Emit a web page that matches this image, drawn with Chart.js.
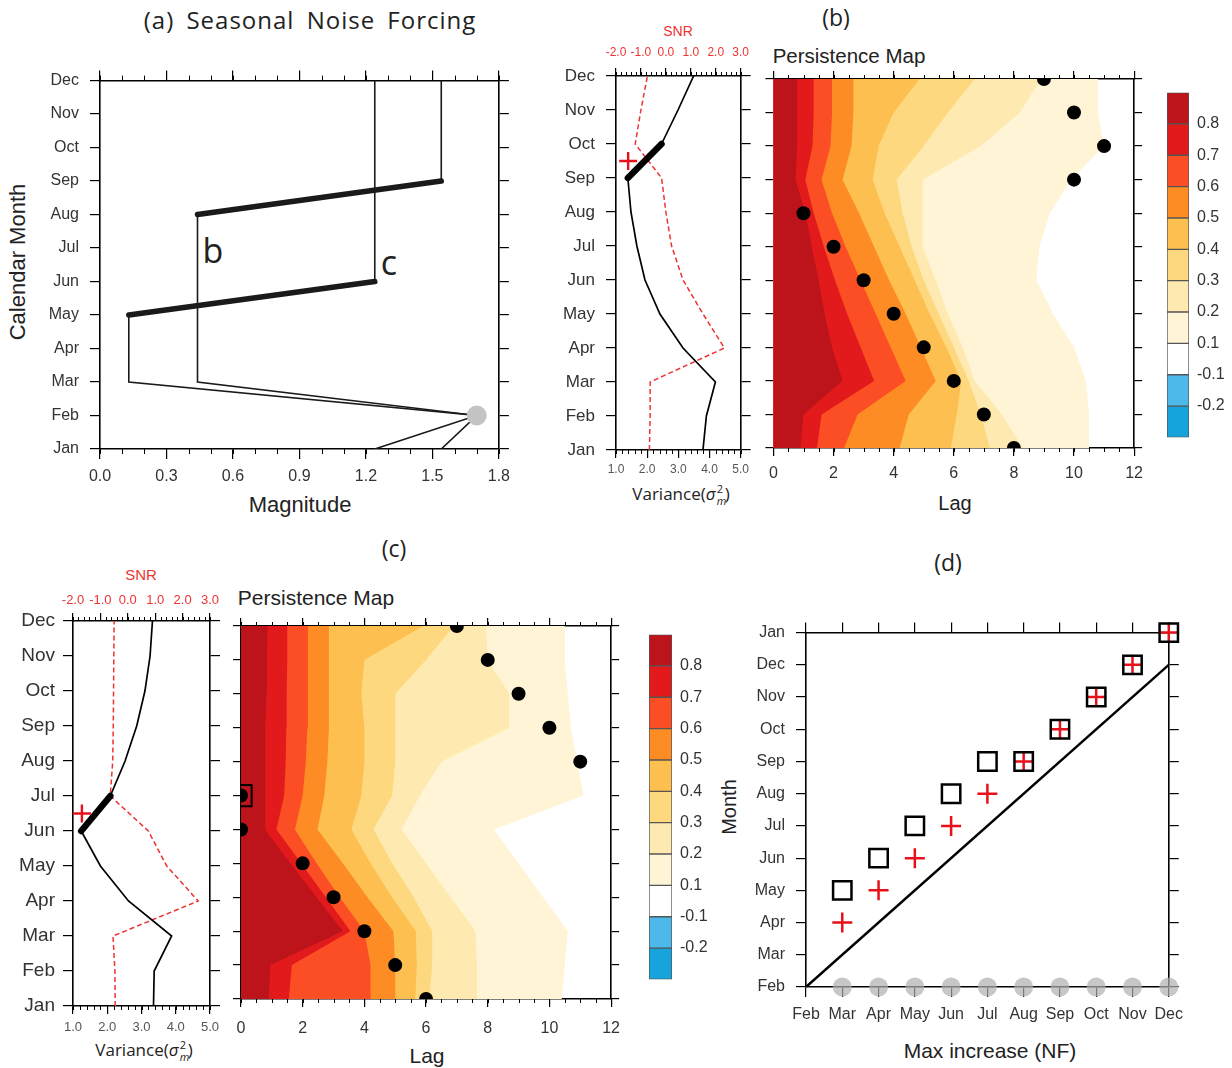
<!DOCTYPE html>
<html><head><meta charset="utf-8">
<script src="https://cdn.jsdelivr.net/npm/chart.js@4.4.1/dist/chart.umd.min.js"></script>
<style>
html,body{margin:0;padding:0;background:#fff;}
#page{position:relative;width:1232px;height:1068px;overflow:hidden;background:#fff;}
canvas{position:absolute;}
.t{position:absolute;white-space:nowrap;transform:translate(-50%,-50%);color:#222;font-family:'Liberation Sans',Arial,sans-serif;line-height:1;}
.os{font-family:'Open Sans',sans-serif;}
.rot{transform:translate(-50%,-50%) rotate(-90deg);}
.ss{position:relative;display:inline-block;width:9px;height:12px;}
.ss .sup{position:absolute;left:1px;top:-5px;font-size:11px;line-height:11px;font-style:normal;}
.ss .sub{position:absolute;left:1px;top:7px;font-size:11px;line-height:11px;font-style:italic;}
</style></head>
<body><div id="page">
<div class="t os" style="left:310px;top:20px;font-size:24px;letter-spacing:1px;word-spacing:5px;">(a) Seasonal Noise Forcing</div>
<div class="t os" style="left:836px;top:17px;font-size:23px;">(b)</div>
<div class="t os" style="left:394px;top:548px;font-size:23px;">(c)</div>
<div class="t os" style="left:948px;top:562px;font-size:23px;">(d)</div>

<div class="t rot" style="left:18px;top:262px;font-size:22px;">Calendar Month</div>
<div class="t" style="left:300px;top:505px;font-size:22px;">Magnitude</div>
<div class="t os" style="left:213px;top:250px;font-size:34px;">b</div>
<div class="t os" style="left:389px;top:262px;font-size:34px;">c</div>

<div class="t" style="left:678px;top:31px;font-size:14px;color:#ee3333;">SNR</div>
<div class="t os" style="left:681px;top:493px;font-size:17px;">Variance(<i>σ</i><span class="ss"><span class="sup">2</span><span class="sub">m</span></span>)</div>
<div class="t" style="left:849px;top:56px;font-size:20.5px;">Persistence Map</div>
<div class="t" style="left:955px;top:503px;font-size:20px;">Lag</div>

<div class="t" style="left:141px;top:574px;font-size:15px;color:#ee3333;">SNR</div>
<div class="t os" style="left:144px;top:1049px;font-size:17px;">Variance(<i>σ</i><span class="ss"><span class="sup">2</span><span class="sub">m</span></span>)</div>
<div class="t" style="left:316px;top:597px;font-size:21px;">Persistence Map</div>
<div class="t" style="left:427px;top:1055px;font-size:21px;">Lag</div>

<div class="t rot" style="left:729px;top:807px;font-size:20px;">Month</div>
<div class="t" style="left:990px;top:1050px;font-size:21px;">Max increase (NF)</div>
</div>
<script>
// ---------------- DATA ----------------
const MONTHS = ['Jan','Feb','Mar','Apr','May','Jun','Jul','Aug','Sep','Oct','Nov','Dec'];
const MONTH_IDX = [0,1,2,3,4,5,6,7,8,9,10,11];

// (a) seasonal noise forcing magnitude per calendar month
const NF_B = [1.54, 1.70, 0.44, 0.44, 0.44, 0.44, 0.44, 0.44, 1.54, 1.54, 1.54, 1.54];
const NF_C = [1.24, 1.70, 0.13, 0.13, 0.13, 1.24, 1.24, 1.24, 1.24, 1.24, 1.24, 1.24];
const NF_THICK_B = 7;   // Aug -> Sep
const NF_THICK_C = 4;   // May -> Jun
const NF_PEAK_MONTH = 1, NF_PEAK_MAG = 1.70;

// (b) variance and SNR
const VAR_B = [3.79, 3.90, 4.19, 3.15, 2.41, 1.93, 1.67, 1.48, 1.38, 2.46, 2.99, 3.49];
const SNR_B = [-0.66, -0.63, -0.63, 2.35, 1.49, 0.69, 0.23, 0.00, -0.17, -1.23, -1.00, -0.74];
const VAR_THICK_B = 8;  // Sep -> Oct
const PLUS_B_VAR = 1.39, PLUS_B_MONTH = 8.5;
// (b) persistence map: lag where each contour level is crossed, Jan..Dec
const B_L01 = [10.5, 10.5, 10.4, 10.0, 9.3, 8.75, 8.85, 9.2, 9.9, 11.0, 10.8, 10.8];
const B_L02 = [8.3, 7.6, 6.7, 6.3, 5.8, 5.4, 4.96, 4.96, 4.96, 6.9, 8.2, 8.9];
const B_L03 = [7.2, 6.9, 6.5, 6.0, 5.5, 5.0, 4.6, 4.3, 4.1, 5.0, 5.8, 6.7];
const B_L04 = [5.9, 6.1, 6.25, 5.75, 5.2, 4.7, 4.2, 3.7, 3.3, 3.5, 4.0, 4.86];
const B_L05 = [4.2, 4.5, 5.4, 4.9, 4.4, 3.85, 3.35, 2.85, 2.3, 2.6, 2.66, 2.66];
const B_L06 = [2.35, 2.8, 4.4, 3.9, 3.4, 2.9, 2.4, 1.95, 1.6, 1.9, 1.95, 1.95];
const B_L07 = [1.45, 1.6, 3.35, 2.9, 2.45, 2.05, 1.68, 1.34, 1.06, 1.3, 1.34, 1.34];
const B_L08 = [0.9, 1.0, 2.3, 1.95, 1.7, 1.5, 1.28, 1.06, 0.74, 0.79, 0.79, 0.79];
const B_DOT_LAG = [8, 7, 6, 5, 4, 3, 2, 1, 10, 11, 10, 9];

// (c) variance and SNR
const VAR_C = [3.35, 3.37, 3.88, 2.62, 1.80, 1.24, 2.09, 2.52, 2.86, 3.10, 3.25, 3.32];
const SNR_C = [-0.46, -0.47, -0.54, 2.57, 1.42, 0.75, -0.64, -0.55, -0.53, -0.52, -0.51, -0.50];
const VAR_THICK_C = 5;  // Jun -> Jul
const PLUS_C_VAR = 1.26, PLUS_C_MONTH = 5.5;
const C_L01 = [10.4, 10.5, 10.6, 9.8, 9.0, 8.2, 11.1, 10.9, 10.7, 10.6, 10.5, 10.5];
const C_L02 = [7.65, 7.65, 7.6, 6.8, 6.0, 5.2, 5.8, 6.5, 8.7, 8.7, 8.0, 7.95];
const C_L03 = [6.1, 6.2, 6.2, 5.6, 4.9, 4.3, 4.9, 5.0, 5.0, 5.0, 6.0, 6.9];
const C_L04 = [5.65, 5.7, 5.67, 4.9, 4.2, 3.58, 3.9, 4.0, 4.0, 3.9, 4.0, 5.9];
const C_L05 = [5.0, 5.0, 4.94, 4.1, 3.3, 2.48, 2.7, 2.8, 2.85, 2.85, 2.85, 2.85];
const C_L06 = [4.2, 4.2, 4.0, 3.2, 2.45, 1.75, 2.0, 2.1, 2.15, 2.17, 2.17, 2.17];
const C_L07 = [1.55, 1.65, 3.55, 2.75, 1.95, 1.15, 1.4, 1.45, 1.47, 1.48, 1.5, 1.5];
const C_L08 = [0.9, 0.95, 3.3, 2.45, 1.6, 0.78, 0.78, 0.78, 0.8, 0.82, 0.84, 0.86];
const C_DOT_LAG = [6, 5, 4, 3, 2, 0, 0, 11, 10, 9, 8, 7];
const C_BOX_LAG = 0, C_BOX_MONTH = 6;

// colour scale
const LEVEL_COLORS = ['#17a3dc','#4db8ea','#ffffff','#fff5d6','#feeab0','#fed87e','#fdbf4f','#fd8c25','#fc4e25','#e31a1c','#bd141b'];
const LEVEL_TICKS = ['', '-0.2', '-0.1', '0.1', '0.2', '0.3', '0.4', '0.5', '0.6', '0.7', '0.8', ''];

// (d) month of max increase
const D_X_LABELS = ['Feb','Mar','Apr','May','Jun','Jul','Aug','Sep','Oct','Nov','Dec'];
const D_Y_LABELS = ['Feb','Mar','Apr','May','Jun','Jul','Aug','Sep','Oct','Nov','Dec','Jan'];
const D_SQ_X = [1, 2, 3, 4, 5, 6, 7, 8, 9, 10];
const D_SQ_Y = [3, 4, 5, 6, 7, 7, 8, 9, 10, 11];
const D_PL_X = [1, 2, 3, 4, 5, 6, 7, 8, 9, 10];
const D_PL_Y = [2, 3, 4, 5, 6, 7, 8, 9, 10, 11];
const D_GREY_X = [1, 2, 3, 4, 5, 6, 7, 8, 9, 10];
const D_GREY_Y = [0, 0, 0, 0, 0, 0, 0, 0, 0, 0];
const D_DIAG_X = [0, 10];
const D_DIAG_Y = [0, 10];

// ---------------- HELPERS ----------------
const FONT = "'Liberation Sans', Arial, sans-serif";
Chart.defaults.font.family = FONT;
Chart.defaults.color = '#333';
const page = document.getElementById('page');

function mkCanvas(x, y, w, h) {
  const c = document.createElement('canvas');
  c.width = w; c.height = h;
  c.style.left = x + 'px'; c.style.top = y + 'px';
  c.style.width = w + 'px'; c.style.height = h + 'px';
  page.appendChild(c);
  return c;
}
const minorTicks = {
  id: 'minorTicks',
  afterDraw(chart, args, opts) {
    const list = opts && opts.list; if (!list) return;
    const ctx = chart.ctx, a = chart.chartArea;
    ctx.save(); ctx.strokeStyle = '#000'; ctx.lineWidth = 1;
    list.forEach(o => {
      const s = chart.scales[o.id]; if (!s) return;
      const n = Math.round((s.max - s.min) / o.step);
      for (let i = 0; i <= n; i++) {
        const p = Math.round(s.getPixelForValue(s.min + i * o.step)) + 0.5;
        ctx.beginPath();
        if (s.position === 'bottom') { ctx.moveTo(p, a.bottom); ctx.lineTo(p, a.bottom + o.len); }
        else if (s.position === 'top') { ctx.moveTo(p, a.top); ctx.lineTo(p, a.top - o.len); }
        else if (s.position === 'left') { ctx.moveTo(a.left, p); ctx.lineTo(a.left - o.len, p); }
        else { ctx.moveTo(a.right, p); ctx.lineTo(a.right + o.len, p); }
        ctx.stroke();
      }
    });
    ctx.restore();
  }
};
function frame(o) {
  return {
    type: 'linear', position: o.pos, min: o.min, max: o.max, z: 1,
    ticks: { display: !!o.fmt, stepSize: o.step, autoSkip: false, maxRotation: 0, minRotation: 0,
      padding: o.pad == null ? 8 : o.pad, color: o.color || '#333',
      font: { size: o.fs || 16, family: FONT }, callback: o.fmt || (v => v) },
    grid: { display: true, drawOnChartArea: false, drawTicks: true, tickLength: o.tl == null ? 8 : o.tl, color: '#000', lineWidth: 1.2 },
    border: { display: true, color: '#000', width: 1.6 },
    afterFit: s => { if (s.isHorizontal()) s.height = o.size; else s.width = o.size; }
  };
}
function baseOpts(scales, minor, padding) {
  return {
    responsive: false, animation: false, devicePixelRatio: 1, events: [],
    layout: { padding: padding || 0 },
    plugins: { legend: { display: false }, tooltip: { enabled: false }, minorTicks: { list: minor || [] } },
    scales
  };
}
const pts = (xs, ys) => xs.map((x, i) => ({ x: x, y: ys[i] }));
const polygon = lags => [{ x: -1, y: 0 }].concat(lags.map((l, m) => ({ x: l, y: MONTH_IDX[m] }))).concat([{ x: -1, y: 11 }]);
const monthFmt = v => MONTHS[v];

// ---------------- (a) ----------------
new Chart(mkCanvas(40, 60, 478, 434), {
  type: 'line',
  data: { datasets: [
    { data: [{ x: NF_PEAK_MAG, y: NF_PEAK_MONTH }], showLine: false, pointRadius: 10, pointBackgroundColor: '#c4c4c4', pointBorderWidth: 0, order: 0 },
    { data: pts(NF_B, MONTH_IDX), borderColor: '#1a1a1a', borderWidth: 1.6, pointRadius: 0, borderCapStyle: 'round', tension: 0, order: 1,
      segment: { borderWidth: c => c.p0DataIndex === NF_THICK_B ? 5.5 : undefined } },
    { data: pts(NF_C, MONTH_IDX), borderColor: '#1a1a1a', borderWidth: 1.6, pointRadius: 0, borderCapStyle: 'round', tension: 0, order: 2,
      segment: { borderWidth: c => c.p0DataIndex === NF_THICK_C ? 5.5 : undefined } }
  ] },
  options: baseOpts({
    x: frame({ pos: 'bottom', min: 0, max: 1.8, step: 0.3, size: 45, tl: 10, pad: 8, fs: 16, fmt: v => v.toFixed(1) }),
    x2: frame({ pos: 'top', min: 0, max: 1.8, step: 0.3, size: 16, tl: 10 }),
    y: frame({ pos: 'left', min: 0, max: 11, step: 1, size: 60, tl: 10, pad: 11, fs: 16, fmt: monthFmt }),
    y2: frame({ pos: 'right', min: 0, max: 11, step: 1, size: 16, tl: 10 })
  }, [{ id: 'x', step: 0.1, len: 5 }, { id: 'x2', step: 0.1, len: 5 }]),
  plugins: [minorTicks]
});

// ---------------- variance panels ----------------
function varianceChart(canvas, VAR, SNR, thick, plusV, plusM, sz) {
  return new Chart(canvas, {
    type: 'line',
    data: { datasets: [
      { data: [{ x: plusV, y: plusM }], xAxisID: 'x', showLine: false, pointStyle: 'cross', pointRadius: 9, pointBorderColor: '#e8101a', pointBorderWidth: 2.4, order: 0, clip: false },
      { data: pts(VAR, MONTH_IDX), xAxisID: 'x', borderColor: '#000', borderWidth: 1.7, pointRadius: 0, tension: 0, borderCapStyle: 'round', order: 1,
        segment: { borderWidth: c => c.p0DataIndex === thick ? 6.5 : undefined } },
      { data: pts(SNR, MONTH_IDX), xAxisID: 'x2', borderColor: '#ee3333', borderWidth: 1.5, borderDash: [5, 3], pointRadius: 0, tension: 0, order: 2 }
    ] },
    options: baseOpts({
      x: frame({ pos: 'bottom', min: 1, max: 5, step: 1, size: sz.b, tl: 8, pad: sz.bp, fs: sz.fsx, color: '#555', fmt: v => v.toFixed(1) }),
      x2: frame({ pos: 'top', min: -2, max: 3, step: 1, size: sz.t, tl: 8, pad: sz.tp, fs: sz.fsx, color: '#ee3333', fmt: v => v.toFixed(1) }),
      y: frame({ pos: 'left', min: 0, max: 11, step: 1, size: sz.l, tl: 10, pad: sz.lp, fs: sz.fsy, fmt: monthFmt }),
      y2: frame({ pos: 'right', min: 0, max: 11, step: 1, size: 16, tl: 10 })
    }, [{ id: 'x', step: 0.2, len: 4 }, { id: 'x2', step: 0.2, len: 4 }]),
    plugins: [minorTicks]
  });
}
varianceChart(mkCanvas(550, 40, 207, 440), VAR_B, SNR_B, VAR_THICK_B, PLUS_B_VAR, PLUS_B_MONTH,
  { b: 30, bp: 4, t: 36, tp: 8, l: 66, lp: 11, fsx: 12, fsy: 17 });
varianceChart(mkCanvas(0, 591, 226, 449), VAR_C, SNR_C, VAR_THICK_C, PLUS_C_VAR, PLUS_C_MONTH,
  { b: 34, bp: 6, t: 30, tp: 5, l: 73, lp: 8, fsx: 13, fsy: 19 });

// ---------------- persistence maps ----------------
function mapChart(canvas, levels, dotLags, extra, sz) {
  const ds = [];
  ds.push({ data: pts(dotLags, MONTH_IDX), showLine: false, pointRadius: 7, pointBackgroundColor: '#000', pointBorderWidth: 0, order: 0 });
  if (extra) ds.push(extra);
  levels.forEach((lv, k) => {
    ds.push({ data: polygon(lv), borderWidth: 0, pointRadius: 0, tension: 0, fill: 'shape', backgroundColor: LEVEL_COLORS[10 - k], order: 2 + k });
  });
  return new Chart(canvas, {
    type: 'line',
    data: { datasets: ds },
    options: baseOpts({
      x: frame({ pos: 'bottom', min: 0, max: 12, step: 2, size: sz.b, tl: 8, pad: sz.bp, fs: 16, fmt: v => String(v) }),
      x2: frame({ pos: 'top', min: 0, max: 12, step: 2, size: 12, tl: 8 }),
      y: frame({ pos: 'left', min: 0, max: 11, step: 1, size: 12, tl: 8 }),
      y2: frame({ pos: 'right', min: 0, max: 11, step: 1, size: 14, tl: 8 })
    }, [{ id: 'x', step: 0.5, len: 4 }, { id: 'x2', step: 0.5, len: 4 }]),
    plugins: [minorTicks]
  });
}
mapChart(mkCanvas(761, 67, 390, 421), [B_L08, B_L07, B_L06, B_L05, B_L04, B_L03, B_L02, B_L01], B_DOT_LAG, null, { b: 40, bp: 8 });
mapChart(mkCanvas(224, 609, 408, 435), [C_L08, C_L07, C_L06, C_L05, C_L04, C_L03, C_L02, C_L01], C_DOT_LAG,
  { data: [{ x: C_BOX_LAG, y: C_BOX_MONTH }], showLine: false, pointStyle: 'rect', pointRadius: 15, pointBackgroundColor: 'rgba(0,0,0,0)', pointBorderColor: '#000', pointBorderWidth: 2, order: 1 },
  { b: 45, bp: 12 });

// ---------------- colour bars ----------------
function colorBar(canvas) {
  return new Chart(canvas, {
    type: 'bar',
    data: { labels: [''], datasets: LEVEL_COLORS.map((c, k) => ({
      data: [[k, k + 1]], backgroundColor: c, borderColor: '#555', borderWidth: 1, borderSkipped: false,
      grouped: false, barPercentage: 1, categoryPercentage: 1 })) },
    options: baseOpts({
      x: { display: false },
      y: { position: 'right', min: 0, max: 11,
        ticks: { stepSize: 1, autoSkip: false, padding: 8, color: '#333', font: { size: 16, family: FONT }, callback: v => LEVEL_TICKS[v] },
        grid: { display: false, drawTicks: false }, border: { display: false },
        afterFit: s => { s.width = 43; } }
    }, [], { left: 7, top: 8, bottom: 10, right: 0 })
  });
}
colorBar(mkCanvas(1160, 75, 72, 380));
colorBar(mkCanvas(642, 617, 73, 380));

// ---------------- (d) ----------------
new Chart(mkCanvas(746, 612, 445, 420), {
  type: 'line',
  data: { datasets: [
    { data: pts(D_SQ_X, D_SQ_Y), showLine: false, pointStyle: 'rect', pointRadius: 13, pointBackgroundColor: 'rgba(0,0,0,0)', pointBorderColor: '#000', pointBorderWidth: 2.5, clip: false, order: 0 },
    { data: pts(D_PL_X, D_PL_Y), showLine: false, pointStyle: 'cross', pointRadius: 10, pointBorderColor: '#e8101a', pointBorderWidth: 2.5, clip: false, order: 1 },
    { data: pts(D_DIAG_X, D_DIAG_Y), borderColor: '#000', borderWidth: 2.5, pointRadius: 0, tension: 0, order: 2 },
    { data: pts(D_GREY_X, D_GREY_Y), showLine: false, pointRadius: 9.5, pointBackgroundColor: 'rgba(175,175,175,0.7)', pointBorderWidth: 0, clip: false, order: 3 }
  ] },
  options: baseOpts({
    x: frame({ pos: 'bottom', min: 0, max: 10, step: 1, size: 45, tl: 10, pad: 8, fs: 16, fmt: v => D_X_LABELS[v] }),
    x2: frame({ pos: 'top', min: 0, max: 10, step: 1, size: 14, tl: 10 }),
    y: frame({ pos: 'left', min: 0, max: 11, step: 1, size: 60, tl: 10, pad: 11, fs: 16, fmt: v => D_Y_LABELS[v] }),
    y2: frame({ pos: 'right', min: 0, max: 11, step: 1, size: 16, tl: 10 })
  }, []),
  plugins: [minorTicks]
});
</script>
</body></html>
